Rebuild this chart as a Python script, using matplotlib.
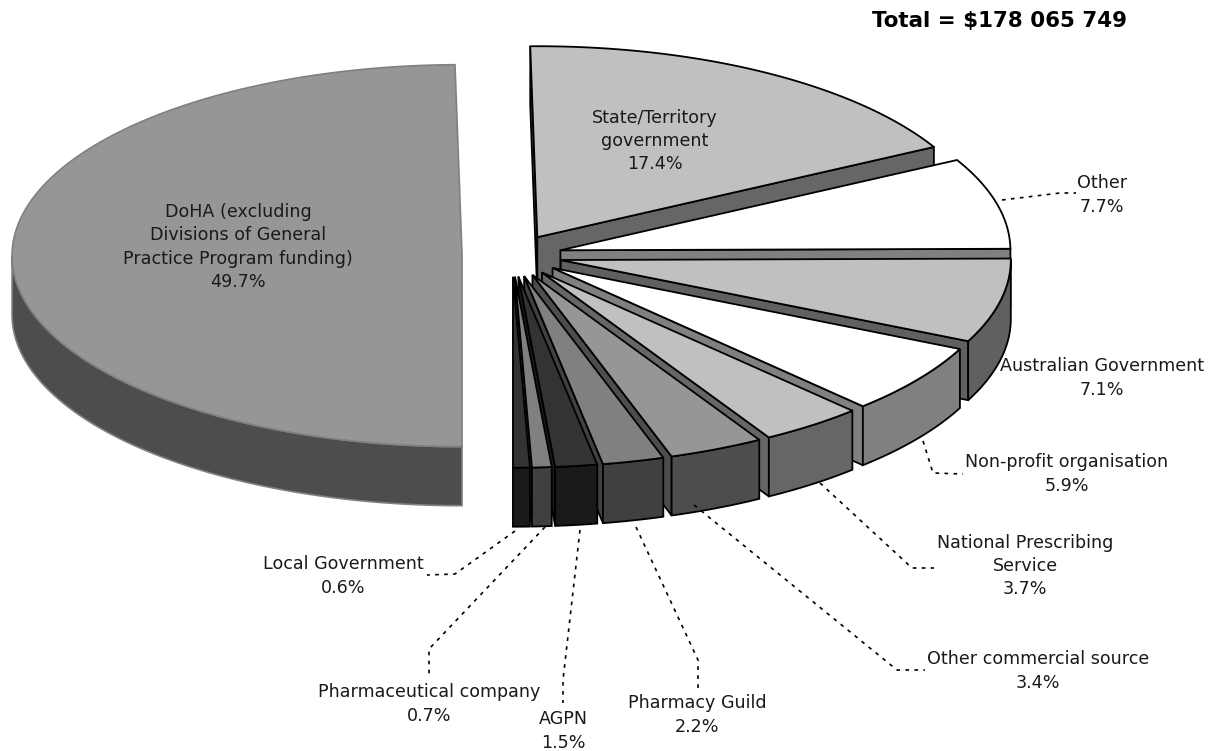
import numpy as np
import matplotlib
matplotlib.use('Agg')
import matplotlib.pyplot as plt
from matplotlib.patches import Polygon

labels = ['State/Territory\ngovernment', 'Other', 'Australian Government', 'Non-profit organisation',
          'National Prescribing\nService', 'Other commercial source', 'Pharmacy Guild', 'AGPN',
          'Pharmaceutical company', 'Local Government',
          'DoHA (excluding\nDivisions of General\nPractice Program funding)']
shares = [17.4, 7.7, 7.1, 5.9, 3.7, 3.4, 2.2, 1.5, 0.7, 0.6, 49.7]
top_colors = ['#c0c0c0', '#ffffff', '#c0c0c0', '#ffffff', '#c0c0c0', '#969696', '#808080', '#333333',
              '#808080', '#333333', '#969696']
side_colors = ['#666666', '#808080', '#606060', '#808080', '#666666', '#4d4d4d', '#404040', '#1a1a1a',
               '#404040', '#1a1a1a', '#4d4d4d']
label_pos = [(655, 141), (1102, 195), (1102, 378), (1067, 474), (1025, 566), (1038, 671), (697, 715),
             (563, 731), (429, 704), (343, 576), (238, 247)]
leaders = [None,
           [(1002, 200), (1060, 193), (1076, 193)],
           None,
           [(923, 441), (933, 473), (963, 474)],
           [(820, 483), (912, 568), (934, 568)],
           [(694, 505), (897, 670), (925, 670)],
           [(636, 527), (698, 660), (698, 688)],
           [(580, 530), (563, 680), (563, 703)],
           [(545, 527), (429, 649), (429, 677)],
           [(515, 531), (455, 574), (427, 575)],
           None]
title = 'Total = $178 065 749'

# pie geometry, in pixels
cx, cy = 512, 255.5
rx, ry = 450, 191
depth = 59
explode = 0.111
start_angle = -0.9

fig = plt.figure(figsize=(12.19, 7.51), dpi=100)
ax = fig.add_axes([0, 0, 1, 1])
ax.set_xlim(0, 1219)
ax.set_ylim(751, 0)
ax.axis('off')


def pt(ox, oy, deg, dy=0):
    t = np.radians(deg)
    return ox + rx * np.sin(t), oy - ry * np.cos(t) + dy


def wall(apex, deg, color, edge, lw):
    p = pt(apex[0], apex[1], deg)
    poly = [apex, p, (p[0], p[1] + depth), (apex[0], apex[1] + depth)]
    ax.add_patch(Polygon(poly, closed=True, facecolor=color, edgecolor=edge, lw=lw))


def draw_slice(start, end, top, side, edge, lw):
    mid = np.radians((start + end) / 2)
    ox = cx + explode * rx * np.sin(mid)
    oy = cy - explode * ry * np.cos(mid)
    apex = (ox, oy)
    if start < 0:
        wall(apex, start, side, edge, lw)
    if end < 180:
        wall(apex, end, side, edge, lw)
    a, b = max(start, 90), min(end, 270)
    if b > a:
        angs = np.linspace(a, b, 80)
        upper = [pt(ox, oy, d) for d in angs]
        lower = [pt(ox, oy, d, depth) for d in angs[::-1]]
        ax.add_patch(Polygon(upper + lower, closed=True, facecolor=side, edgecolor=edge, lw=lw))
    angs = np.linspace(start, end, max(int(end - start) * 2, 8))
    ax.add_patch(Polygon([apex] + [pt(ox, oy, d) for d in angs], closed=True,
                         facecolor=top, edgecolor=edge, lw=lw))


# rounded shares add up to 99.9, the pie still closes
bounds = start_angle + np.cumsum([0] + shares) / sum(shares) * 360

# big slice sits behind the others
draw_slice(bounds[10], bounds[11], top_colors[10], side_colors[10], '#808080', 1.2)
for i in range(10):
    draw_slice(bounds[i], bounds[i + 1], top_colors[i], side_colors[i], 'black', 1.3)

for line in leaders:
    if line:
        xs, ys = zip(*line)
        ax.plot(xs, ys, color='black', lw=1.2, ls=(0, (2.2, 3.2)), zorder=5)

for name, share, pos in zip(labels, shares, label_pos):
    ax.text(pos[0], pos[1], f'{name}\n{share}%', ha='center', va='center', fontsize=12.6,
            color='#1a1a1a', linespacing=1.37, family='DejaVu Sans', zorder=6)

ax.text(1000, 20.5, title, ha='center', va='center', fontsize=15.4, fontweight='bold',
        family='DejaVu Sans', color='black')

fig.savefig('out.png', dpi=100)
